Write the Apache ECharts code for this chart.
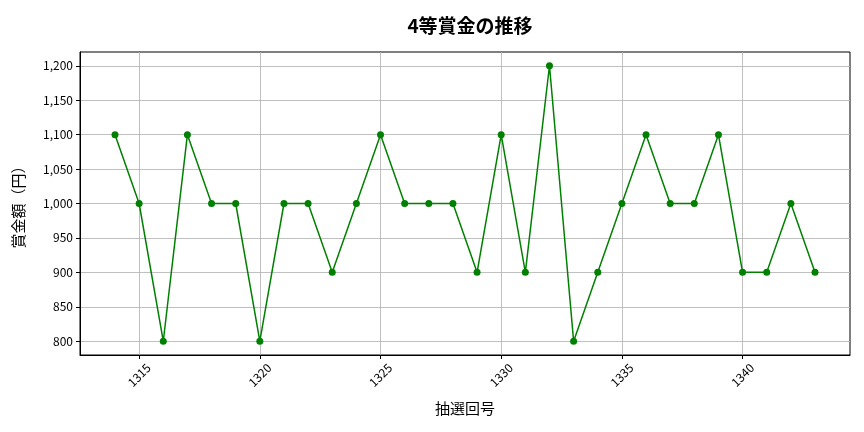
<!DOCTYPE html>
<html><head><meta charset="utf-8">
<script src="https://cdn.jsdelivr.net/npm/echarts@6/dist/echarts.min.js"></script>
<style>html,body{margin:0;padding:0;background:#fff}#c{width:864px;height:432px}</style>
</head><body><div id="c"></div>
<script>
const draws = [1314,1315,1316,1317,1318,1319,1320,1321,1322,1323,1324,1325,1326,1327,1328,1329,1330,1331,1332,1333,1334,1335,1336,1337,1338,1339,1340,1341,1342,1343];
const prizes = [1100,1000,800,1100,1000,1000,800,1000,1000,900,1000,1100,1000,1000,1000,900,1100,900,1200,800,900,1000,1100,1000,1000,1100,900,900,1000,900];
const xTicks = [1315,1320,1325,1330,1335,1340];
const yTicks = [800,850,900,950,1000,1050,1100,1150,1200];
const font = '"Noto Sans CJK JP","Noto Sans",sans-serif';
const chart = echarts.init(document.getElementById('c'));
chart.setOption({
  animation:false,
  title:{text:'4等賞金の推移',left:465,textAlign:'center',top:11,textStyle:{fontFamily:font,fontSize:19,fontWeight:'bold',color:'#000'}},
  grid:{left:80,right:14,top:52,bottom:77,containLabel:false,show:true,borderColor:'#000',borderWidth:1},
  xAxis:{type:'value',min:1312.55,max:1344.45,
    name:'抽選回号',nameLocation:'middle',nameGap:46,nameTextStyle:{fontFamily:font,fontSize:15,color:'#000'},
    axisLine:{show:true,lineStyle:{color:'#000'}},
    axisTick:{show:true,length:4,lineStyle:{color:'#000'},customValues:xTicks},
    axisLabel:{customValues:xTicks,rotate:45,align:'center',verticalAlign:'middle',fontFamily:font,fontSize:12,color:'#000',margin:20,formatter:v=>String(v)},
    splitLine:{show:true,lineStyle:{color:'#b0b0b0',width:0.8}}},
  yAxis:{type:'value',min:780,max:1220,
    name:'賞金額（円）',nameLocation:'middle',nameGap:54,nameTextStyle:{fontFamily:font,fontSize:15,color:'#000'},
    axisLine:{show:true,lineStyle:{color:'#000'}},
    axisTick:{show:true,length:4,lineStyle:{color:'#000'},customValues:yTicks},
    axisLabel:{customValues:yTicks,fontFamily:font,fontSize:12,color:'#000',margin:7,formatter:v=>v.toLocaleString('en-US')},
    splitLine:{show:true,lineStyle:{color:'#b0b0b0',width:0.8}}},
  series:[{type:'line',data:draws.map((d,i)=>[d,prizes[i]]),
    lineStyle:{color:'#008000',width:1.5},itemStyle:{color:'#008000'},
    symbol:'circle',symbolSize:7,showSymbol:true}]
});
</script></body></html>
